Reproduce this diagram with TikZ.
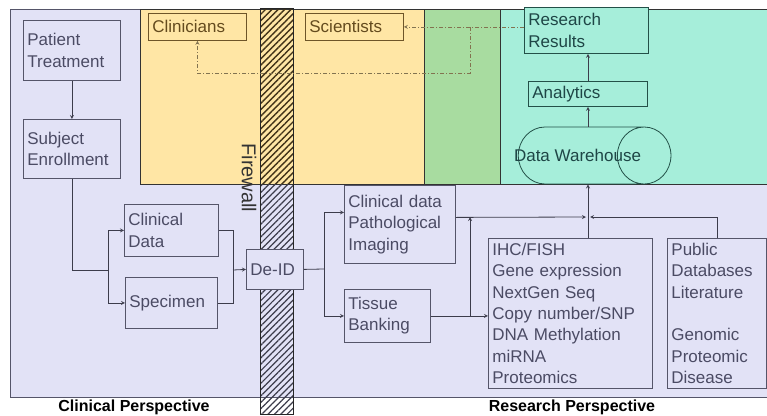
\documentclass[tikz,border=0pt]{standalone}
\usepackage{fontspec}
\setmainfont{Liberation Sans}
\usetikzlibrary{shapes.geometric, arrows, patterns.meta}
\definecolor{lav}{RGB}{226,226,246}
\definecolor{yel}{RGB}{255,230,165}
\definecolor{grn}{RGB}{168,220,160}
\definecolor{teal2}{RGB}{166,238,218}
\definecolor{boxline}{RGB}{85,85,105}
\definecolor{boxtext}{RGB}{75,75,100}
\definecolor{wire}{RGB}{60,60,75}
\definecolor{yline}{RGB}{110,85,40}
\definecolor{ytext}{RGB}{100,75,30}
\definecolor{tline}{RGB}{35,80,72}
\definecolor{ttext}{RGB}{30,70,70}
\definecolor{ddline}{RGB}{130,115,80}
\newcommand{\boxfont}{\fontsize{17pt}{21.3pt}\selectfont}
\tikzstyle{box} = [rectangle, draw=boxline, fill=lav, line width=0.8pt, text=boxtext, anchor=north west, inner sep=4pt, align=left, font=\boxfont]
\tikzstyle{ybox} = [box, draw=yline, fill=yel, text=ytext]
\tikzstyle{tbox} = [box, draw=tline, fill=teal2, text=ttext]
\tikzstyle{arrow} = [draw=wire, line width=0.8pt, ->, >=stealth]
\tikzstyle{link} = [draw=wire, line width=0.8pt]
\tikzstyle{feedback} = [draw=ddline, line width=0.8pt, dash pattern=on 4pt off 2pt on 1pt off 2pt, >=stealth]
\tikzstyle{persp} = [font=\bfseries\fontsize{16pt}{19pt}\selectfont]

\begin{document}
\begin{tikzpicture}[x=1pt, y=-1pt]
\useasboundingbox (0,0) rectangle (767,415);
% regions
\draw[fill=lav, draw=boxline, line width=0.8pt] (10,9) rectangle (767,397);
\draw[fill=yel, draw=black!80, line width=0.8pt] (140,9) rectangle (424,184);
\draw[fill=grn, draw=black!80, line width=0.8pt] (424,9) rectangle (500,184);
\draw[fill=teal2, draw=black!80, line width=0.8pt] (500,9) rectangle (767,184);
% firewall
\fill[pattern={Lines[angle=45, distance=4.5pt, line width=1.4pt]}, pattern color=yline!60!black] (260,9) rectangle (293,184);
\fill[pattern={Lines[angle=45, distance=4.5pt, line width=1.2pt]}, pattern color=wire] (260,184) rectangle (293,414);
\draw[black!85, line width=0.8pt] (260,8) rectangle (293,414);
\node (fw) [rotate=-90, font=\fontsize{20pt}{24pt}\selectfont, text=black!80] at (249,178) {Firewall};

% clinical side
\node (treat) [box, text width=89pt, minimum height=60pt] at (23,20) {Patient\\Treatment};
\node (enroll) [box, text width=89pt, minimum height=59pt] at (23,119) {Subject\\Enrollment};
\node (clindata) [box, text width=86pt, minimum height=52pt] at (124,204) {Clinical\\Data};
\node (specimen) [box, text width=84pt, minimum height=51pt] at (125,277) {Specimen};
\node (deid) [box, text width=49pt, minimum height=40pt] at (246,249) {De-ID};
\coordinate (split1) at (108,270);
\coordinate (join1) at (233,270);
\draw [arrow] (treat) -- (enroll);
\draw [link] (enroll.south) |- (split1);
\draw [arrow] (split1) |- (clindata.west);
\draw [arrow] (split1) |- (specimen.west);
\draw [link] (clindata.east) -| (join1);
\draw [link] (specimen.east) -| (join1);
\draw [arrow] (join1) -- (deid.west);

% research side
\node (pathimg) [box, text width=103pt, minimum height=78pt] at (344,185) {Clinical data\\Pathological\\Imaging};
\node (tissue) [box, text width=78pt, minimum height=53pt] at (344,289) {Tissue\\Banking};
\node (assays) [box, text width=156pt, minimum height=150pt] at (488,238) {IHC/FISH\\Gene expression\\NextGen Seq\\Copy number/SNP\\DNA Methylation\\miRNA\\Proteomics};
\node (public) [box, text width=91pt, minimum height=150pt] at (667,238) {Public\\Databases\\Literature\\\mbox{}\\Genomic\\Proteomic\\Disease};
\coordinate (split2) at (324,269);
\coordinate (tap) at (470,316);
\coordinate (bus) at (470,217);
\coordinate (hub) at (588,217);
\draw [link] (deid.east) -- (split2);
\draw [arrow] (split2) |- ([yshift=12pt]pathimg.west);
\draw [arrow] (split2) |- (tissue.west);
\draw [arrow] (tissue.east) -- (tissue.east -| assays.west);
\draw [arrow] (tap) -- (bus);
\draw [arrow] ([yshift=7pt]pathimg.east) -- ([xshift=-2pt]hub);
\draw [arrow] (public.north) |- ([xshift=2pt]hub);

% top
\node (clinicians) [ybox, text width=90pt, minimum height=27pt] at (148,13) {Clinicians};
\node (scientists) [ybox, text width=90pt, minimum height=27pt] at (305,13) {Scientists};
\node (results) [tbox, text width=116pt, minimum height=46pt] at (524,7) {Research\\Results};
\node (analytics) [tbox, text width=111pt, minimum height=25pt] at (528,81) {Analytics};
\node (warehouse) [cylinder, draw=tline, line width=0.8pt, text=ttext, minimum width=57pt, aspect=3.7, inner ysep=1pt, inner xsep=-24pt, font=\boxfont] at (577.5,155.5) {Data Warehouse};
\draw [arrow] (assays.north -| hub) -- (hub |- warehouse.south);
\draw [arrow] (hub |- warehouse.north) -- (hub |- analytics.south);
\draw [arrow] (hub |- analytics.north) -- (hub |- results.south);
\coordinate (fork) at (470,27);
\coordinate (fb) at (470,73);
\draw [feedback, ->] ([yshift=3.5pt]results.west) -- (scientists.east);
\draw [feedback, ->] (fork) -- (fb) -| (clinicians.south);

% perspectives
\node (clinpersp) [persp] at (134,407) {Clinical Perspective};
\node (respersp) [persp] at (572,407) {Research Perspective};
\end{tikzpicture}
\end{document}
